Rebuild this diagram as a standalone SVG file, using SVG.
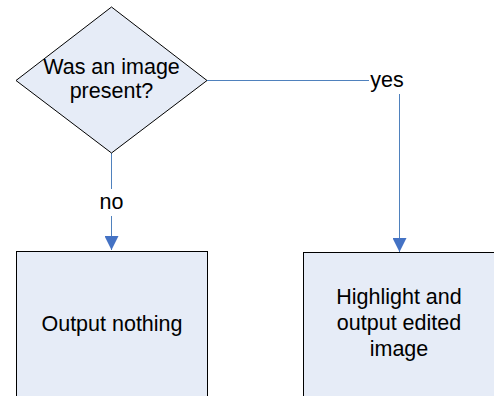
<svg xmlns="http://www.w3.org/2000/svg" width="494" height="396" viewBox="0 0 494 396">
<style>
.shape{fill:#E6ECF7;stroke:#000;stroke-width:1}
.conn{fill:none;stroke:#4F81BD;stroke-width:1}
.lbl{font-family:"Liberation Sans",Arial,sans-serif;font-size:21.5px;fill:#000;text-anchor:middle}
</style>
<defs>
<marker id="arr" markerWidth="14" markerHeight="14" refX="14" refY="7" orient="auto" markerUnits="userSpaceOnUse">
<path d="M0,0 L14,7 L0,14 Z" fill="#4472C4"/>
</marker>
</defs>
<rect width="494" height="396" fill="#fff"/>
<g id="connectors">
<path class="conn" d="M207,80.5 H369"/>
<path class="conn" d="M399.5,94 V252" marker-end="url(#arr)"/>
<path class="conn" d="M111.5,153 V189"/>
<path class="conn" d="M111.5,216 V250" marker-end="url(#arr)"/>
<text class="lbl" x="387" y="87">yes</text>
<text class="lbl" x="111.5" y="209">no</text>
</g>
<g id="decision">
<polygon class="shape" points="111.5,7 207,80.5 111.5,153 16,80.5"/>
<text class="lbl" x="111.5" y="74">Was an image</text>
<text class="lbl" x="111.5" y="98">present?</text>
</g>
<g id="output-nothing">
<rect class="shape" x="16.5" y="251.5" width="191" height="160" stroke="#404040"/>
<text class="lbl" x="112" y="331">Output nothing</text>
</g>
<g id="highlight-output">
<rect class="shape" x="303.5" y="252.5" width="200" height="160"/>
<text class="lbl" x="399" y="304">Highlight and</text>
<text class="lbl" x="399" y="330">output edited</text>
<text class="lbl" x="399" y="356">image</text>
</g>
</svg>
